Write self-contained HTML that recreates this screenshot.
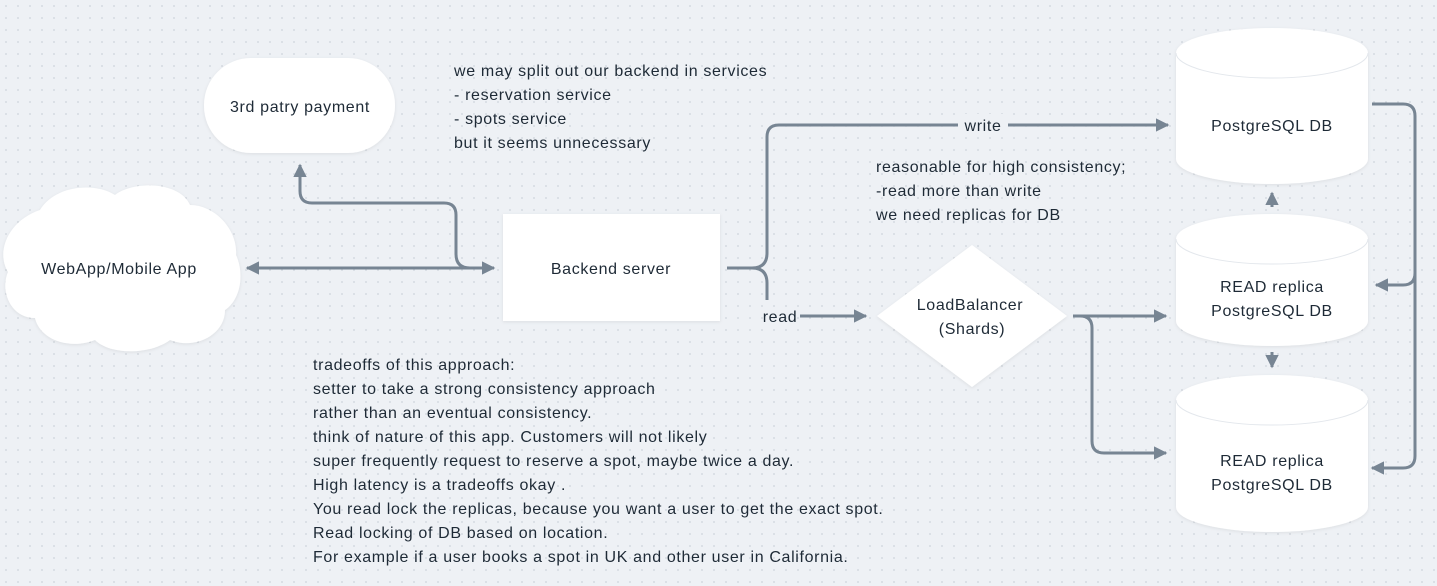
<!DOCTYPE html>
<html><head><meta charset="utf-8"><style>
html,body{margin:0;padding:0;width:1437px;height:586px;overflow:hidden;background:#eef1f5}
svg{display:block}
text{font-family:"Liberation Sans",sans-serif;font-size:16px;fill:#1e2a36;letter-spacing:0.65px}
</style></head><body>
<svg width="1437" height="586" viewBox="0 0 1437 586" xmlns="http://www.w3.org/2000/svg">
<defs>
<pattern id="dots" width="12" height="12" patternUnits="userSpaceOnUse"><circle cx="6" cy="6" r="0.9" fill="#cdd3da"/></pattern>
<filter id="sh" x="-10%" y="-10%" width="120%" height="130%"><feDropShadow dx="0" dy="1" stdDeviation="1.5" flood-color="#000" flood-opacity="0.08"/></filter>
<marker id="ah" viewBox="0 0 10 10" refX="9" refY="5" markerWidth="4.5" markerHeight="4.5" orient="auto-start-reverse"><path d="M0,0 L10,5 L0,10 z" fill="#778593"/></marker>
</defs>
<rect width="1437" height="586" fill="url(#dots)"/>

<g fill="#fff" filter="url(#sh)">
<path d="M40,210 C55,185 95,182 115,195 C135,180 180,182 190,205 C215,205 238,230 236,255 C245,275 240,300 225,310 C225,335 195,350 170,340 C150,355 110,355 95,340 C70,350 40,340 35,318 C10,318 0,290 8,272 C-5,250 10,220 40,210 Z"/>
<rect x="204" y="58" width="191" height="95" rx="47"/>
<rect x="503" y="214" width="217" height="107"/>
<path d="M972,245 L1067,316 L972,387 L877,316 Z"/>
<path d="M1176,53 A96,25 0 0 1 1368,53 L1368,159 A96,25 0 0 1 1176,159 Z"/>
<path d="M1176,239 A96,25 0 0 1 1368,239 L1368,321 A96,25 0 0 1 1176,321 Z"/>
<path d="M1176,400 A96,25 0 0 1 1368,400 L1368,507 A96,25 0 0 1 1176,507 Z"/>
</g>
<g fill="none" stroke="#e3e7ec" stroke-width="1">
<path d="M1176,53 A96,25 0 0 0 1368,53"/>
<path d="M1176,239 A96,25 0 0 0 1368,239"/>
<path d="M1176,400 A96,25 0 0 0 1368,400"/>
</g>

<g fill="none" stroke="#778593" stroke-width="3">
<path d="M247,268 L494,268" marker-start="url(#ah)" marker-end="url(#ah)"/>
<path d="M470,268 Q456,268 456,254 L456,215 Q456,203 444,203 L312,203 Q300,203 300,191 L300,165" marker-end="url(#ah)"/>
<path d="M727,268 L752,268 Q767,268 767,253 L767,137 Q767,125 779,125 L1168,125" marker-end="url(#ah)"/>
<path d="M752,268 Q767,268 767,283 L767,300"/>
<path d="M800,316 L866,316" marker-end="url(#ah)"/>
<path d="M1073,316 L1166,316" marker-end="url(#ah)"/>
<path d="M1080,316 Q1092,316 1092,328 L1092,441 Q1092,453 1104,453 L1166,453" marker-end="url(#ah)"/>
<path d="M1272,207 L1272,193" marker-end="url(#ah)"/>
<path d="M1272,352 L1272,367" marker-end="url(#ah)"/>
<path d="M1372,104 L1403,104 Q1415,104 1415,116 L1415,456 Q1415,468 1403,468 L1372,468" marker-end="url(#ah)"/>
<path d="M1415,273 Q1415,285 1403,285 L1376,285" marker-end="url(#ah)"/>
</g>
<rect x="958" y="114" width="50" height="22" fill="#eef1f5"/>

<g text-anchor="middle">
<text x="119" y="274">WebApp/Mobile App</text>
<text x="300" y="112">3rd patry payment</text>
<text x="611" y="274">Backend server</text>
<text x="970" y="310">LoadBalancer</text>
<text x="972" y="334">(Shards)</text>
<text x="1272" y="131">PostgreSQL DB</text>
<text x="1272" y="292">READ replica</text>
<text x="1272" y="316">PostgreSQL DB</text>
<text x="1272" y="466">READ replica</text>
<text x="1272" y="490">PostgreSQL DB</text>
<text x="983" y="131">write</text>
<text x="780" y="322">read</text>
</g>
<g>
<text x="454" y="76">we may split out our backend in services</text>
<text x="454" y="100">- reservation service</text>
<text x="454" y="124">- spots service</text>
<text x="454" y="148">but it seems unnecessary</text>
<text x="876" y="172">reasonable for high consistency;</text>
<text x="876" y="196">-read more than write</text>
<text x="876" y="220">we need replicas for DB</text>
<text x="313" y="370">tradeoffs of this approach:</text>
<text x="313" y="394">setter to take a strong consistency approach</text>
<text x="313" y="418">rather than an eventual consistency.</text>
<text x="313" y="442">think of nature of this app. Customers will not likely</text>
<text x="313" y="466">super frequently request to reserve a spot, maybe twice a day.</text>
<text x="313" y="490">High latency is a tradeoffs okay .</text>
<text x="313" y="514">You read lock the replicas, because you want a user to get the exact spot.</text>
<text x="313" y="538">Read locking of DB based on location.</text>
<text x="313" y="562">For example if a user books a spot in UK and other user in California.</text>
</g>
</svg>
</body></html>
